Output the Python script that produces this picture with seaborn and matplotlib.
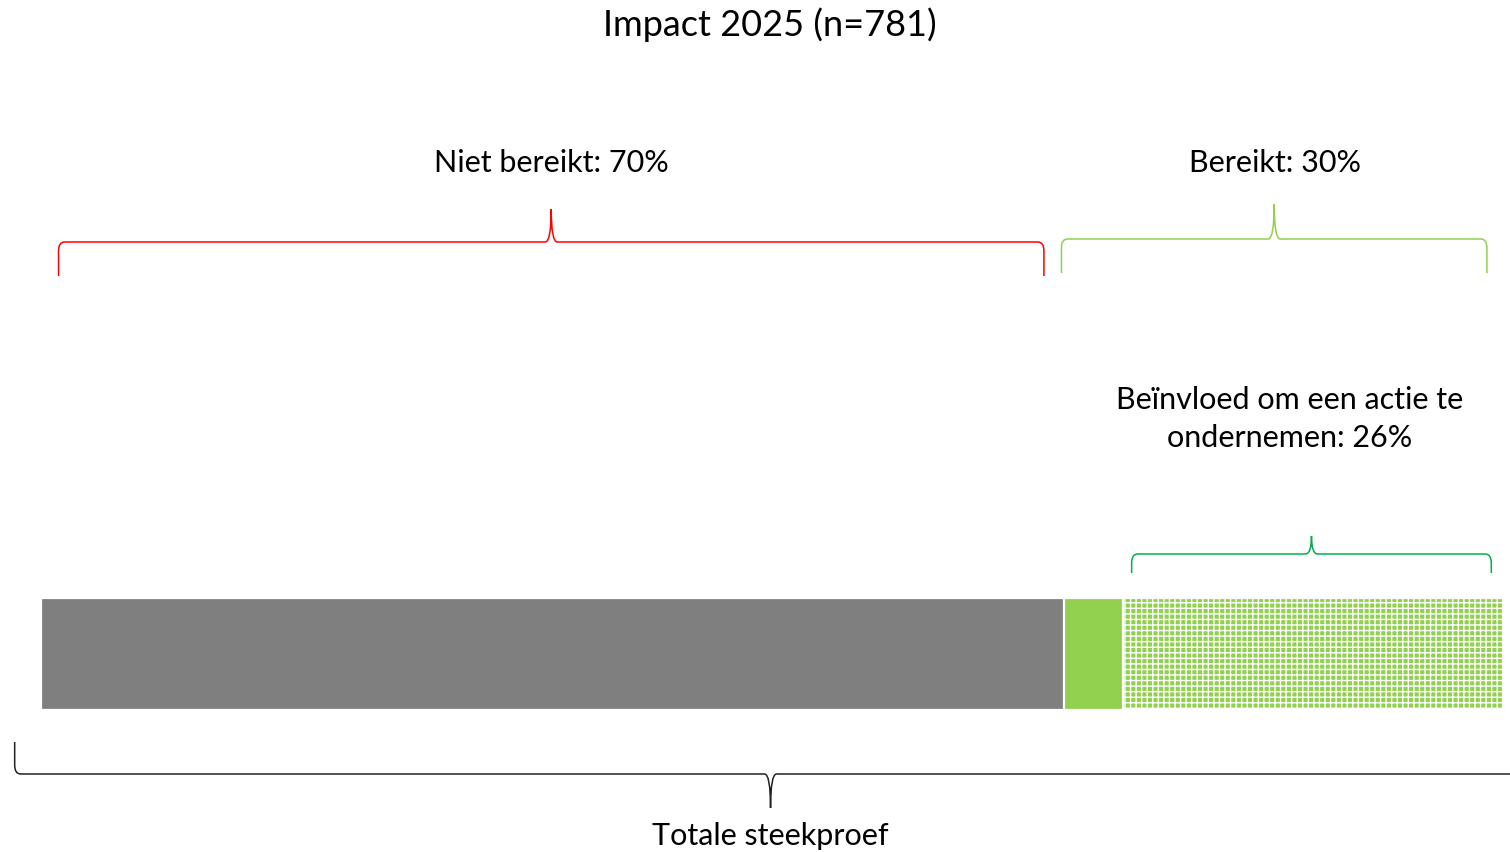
import matplotlib
matplotlib.use("Agg")
import matplotlib.pyplot as plt
import matplotlib.transforms as mtransforms
from matplotlib.path import Path
from matplotlib.patches import PathPatch
import seaborn as sns
import pandas as pd

# --- data -------------------------------------------------------------
title = "Impact 2025 (n=781)"
segments = ["Niet bereikt", "Bereikt, geen actie", "Beïnvloed om een actie te ondernemen"]
values = [70, 4, 26]
reached_share = 30
influenced_share = 26
label_not_reached = "Niet bereikt: 70%"
label_reached = "Bereikt: 30%"
label_influenced = "Beïnvloed om een actie te\nondernemen: 26%"
label_total = "Totale steekproef"

GREY = "#7F7F7F"
GREEN = "#92D050"
RED = "#FF0000"
DARK_GREEN = "#00B050"

sns.set_theme(style="white")
plt.rcParams["font.family"] = ["Lato", "DejaVu Sans"]
plt.rcParams["hatch.linewidth"] = 1.0

W, H = 1510, 852
fig = plt.figure(figsize=(W / 100, H / 100), dpi=100)
ax = fig.add_axes([41 / W, 0, 1462 / W, 1])

# cumulative ends of each stacked segment, drawn back to front
cum = pd.Series(values).cumsum().tolist()
df = pd.DataFrame({"groep": ["Impact"] * 3, "segment": segments, "eind": cum})

styles = [
    dict(color=GREY, hatch=None),
    dict(color=GREEN, hatch=None),
    dict(color=GREEN, hatch="+++"),
]
for i in reversed(range(len(segments))):
    row = df.iloc[[i]]
    st = styles[i]
    sns.barplot(data=row, x="eind", y="groep", orient="h", ax=ax,
                color=st["color"], saturation=1, width=0.8,
                edgecolor="white", linewidth=1.6, hatch=st["hatch"])

ax.set_xlim(0, 100)
ax.set_ylim((H - 654) / 140, -654 / 140)
ax.axis("off")

# x in data units, y in pixels measured from the top of the figure
pix = mtransforms.Affine2D().scale(1 / W, -1 / H).translate(0, 1) + fig.transFigure
trans = mtransforms.blended_transform_factory(ax.transData, pix)
px_per_unit = 1462 / 100


def brace(x0, x1, y_end, y_line, y_tip, color, lw=1.1):
    """Curly brace between x0 and x1 (data), line at y_line, tip at y_tip."""
    rx = 6 / px_per_unit
    ry = 9 if y_end > y_line else -9
    xm = (x0 + x1) / 2
    verts = [
        (x0, y_end), (x0, y_line + ry),
        (x0, y_line), (x0 + rx, y_line),
        (xm - rx, y_line),
        (xm, y_line), (xm, y_tip),
        (xm, y_line), (xm + rx, y_line),
        (x1 - rx, y_line),
        (x1, y_line), (x1, y_line + ry),
        (x1, y_end),
    ]
    codes = [Path.MOVETO, Path.LINETO,
             Path.CURVE3, Path.CURVE3,
             Path.LINETO,
             Path.CURVE3, Path.CURVE3,
             Path.CURVE3, Path.CURVE3,
             Path.LINETO,
             Path.CURVE3, Path.CURVE3,
             Path.LINETO]
    patch = PathPatch(Path(verts, codes), transform=trans, fill=False,
                      edgecolor=color, linewidth=lw, clip_on=False)
    ax.add_patch(patch)


not_reached = values[0]
brace(1.2, not_reached - 1.4, 276, 242, 209, RED)
brace(not_reached - 0.2, 100 - 1.1, 273, 239, 204, GREEN)
brace(100 - influenced_share + 0.6, 100 - 0.8, 573, 554, 536, DARK_GREEN)
brace(-1.8, 101.6, 742, 774, 808, "#222222", lw=1.1)

fs = 22
ax.text(not_reached / 2 - 0.1, 163, label_not_reached, transform=trans,
        ha="center", va="center", fontsize=fs, color="black")
ax.text(100 - reached_share / 2 - 0.6, 163, label_reached, transform=trans,
        ha="center", va="center", fontsize=fs, color="black")
ax.text(100 - influenced_share / 2 - 1.6, 419, label_influenced, transform=trans,
        ha="center", va="center", fontsize=fs, color="black", linespacing=1.42)
ax.text(49.9, 836, label_total, transform=trans,
        ha="center", va="center", fontsize=fs, color="black")

fig.text(770 / W, 1 - 25 / H, title, ha="center", va="center",
         fontsize=26, color="black")

fig.savefig("out.png", dpi=100, facecolor="white")
